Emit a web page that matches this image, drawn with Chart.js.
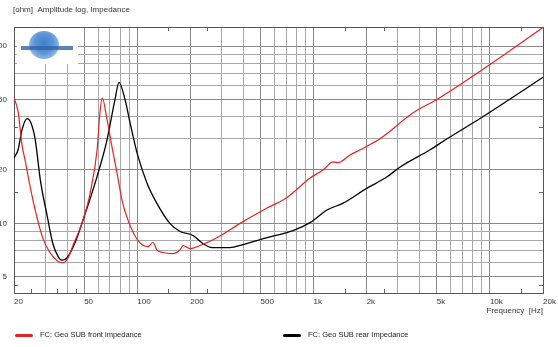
<!DOCTYPE html>
<html>
<head>
<meta charset="utf-8">
<script src="https://cdn.jsdelivr.net/npm/chart.js@4.4.1/dist/chart.umd.min.js"></script>
<style>
  html, body { margin: 0; padding: 0; background: #fff; }
  #wrap { position: relative; width: 558px; height: 347px; }
  #logo { position: absolute; left: 17px; top: 28px; width: 61px; height: 36px; background: #fff; }
  #logo .globe { position: absolute; left: 12px; top: 3px; width: 30px; height: 28px; border-radius: 50%;
    background: radial-gradient(ellipse at 50% 45%, #3f7fcc 0%, #5d95d6 45%, #a9c9ec 85%, #e4eef9 100%); }
  #logo .band { position: absolute; left: 4px; top: 18px; width: 52px; height: 4px; background: #2f63a8; opacity: .8; }
  .legend { position: absolute; top: 330px; font: 7.5px "Liberation Sans", Arial, sans-serif; color: #222; white-space: nowrap; }
  .legend i { display: inline-block; width: 18px; height: 3px; border-radius: 2px; vertical-align: middle; margin-right: 7px; }
</style>
</head>
<body>
<div id="wrap">
  <canvas id="impedance" width="558" height="347"></canvas>
  <div id="logo"><div class="globe"></div><div class="band"></div></div>
  <div class="legend" style="left:15px"><i style="background:#e02424"></i>FC: Geo SUB front impedance</div>
  <div class="legend" style="left:283px"><i style="background:#000"></i>FC: Geo SUB rear Impedance</div>
</div>
<script>
// front (red) impedance, Hz / ohm
const frontFreq = [20, 21.1, 22.2, 23.1, 24.6, 27, 29.2, 32, 35.6, 38, 40.5, 43.2, 49.2, 54.2, 59.2, 61.3, 63.3,
  67.4, 71.9, 76.8, 82, 88.7, 101, 115, 123, 129, 140, 159, 175, 182, 199, 227, 283, 383, 545, 707, 955,
  1131, 1290, 1377, 1610, 1835, 2380, 3670, 5016, 6180, 8790, 20000]
const frontOhm = [51, 42.7, 27.7, 22.8, 16.4, 10.8, 8.2, 6.84, 6.1, 6.0, 6.4, 7.5, 10.4, 15, 26, 41, 51,
  38.4, 27, 19.2, 13.5, 10.4, 8.0, 7.4, 7.8, 7.1, 6.85, 6.75, 7.1, 7.5, 7.2, 7.5, 8.3, 10, 12.2, 14, 18,
  20, 22.2, 22, 24.3, 26, 30, 42, 50, 57, 72, 127]

// rear (black) impedance
const rearFreq = [20, 21.1, 22.2, 23.7, 24.9, 26.4, 28.2, 30.8, 33.2, 35.6, 37.4, 40, 44.4, 49.2, 59.1, 67.4,
  74.8, 78.8, 85.2, 91, 99.7, 113.5, 129, 153, 175, 207, 236, 265, 336, 398, 545, 764, 955, 1192, 1470,
  2010, 2610, 3094, 4580, 5715, 8790, 15800, 20000]
const rearOhm = [23.4, 26, 33.7, 39, 37, 29.6, 17.6, 11.1, 7.7, 6.5, 6.2, 6.4, 7.8, 10.4, 18.3, 29.6,
  50, 62.4, 50, 37, 25, 16.9, 13, 10, 9.0, 8.55, 7.7, 7.3, 7.3, 7.6, 8.3, 9.1, 10.1, 11.9, 13,
  15.8, 18.3, 20.8, 26, 30, 39, 57, 66.7]

const xGrid = [20, 30, 40, 50, 60, 70, 80, 90, 100, 200, 300, 400, 500, 600, 700, 800, 900,
  1000, 2000, 3000, 4000, 5000, 6000, 7000, 8000, 9000, 10000, 20000]
const xTicks = [20, 50, 100, 200, 500, 1000, 2000, 5000, 10000, 20000]
const xTickLabels = ['20', '50', '100', '200', '500', '1k', '2k', '5k', '10k', '20k']
const xMinor = [25, 35, 45, 150, 250, 1500, 2500, 15000]

const yGrid = [5, 6, 7, 8, 9, 10, 20, 30, 40, 50, 60, 70, 80, 90, 100]
const yTicks = [5, 10, 20, 50, 100]
const yMinor = [4.5, 15, 35]

const font = { family: '"Liberation Sans", Arial, sans-serif', size: 8 }

function points(xs, ys) {
  return xs.map((x, i) => ({ x: x, y: ys[i] }))
}

const frame = {
  id: 'frame',
  beforeDatasetsDraw(chart) {
    const { ctx, chartArea: a, scales } = chart
    ctx.save()
    ctx.strokeStyle = '#666'
    ctx.lineWidth = 1
    ctx.beginPath()
    xMinor.forEach(v => {
      const px = Math.round(scales.x.getPixelForValue(v)) + 0.5
      ctx.moveTo(px, a.bottom); ctx.lineTo(px, a.bottom - 4)
      ctx.moveTo(px, a.top); ctx.lineTo(px, a.top + 4)
    })
    yMinor.forEach(v => {
      const py = Math.round(scales.y.getPixelForValue(v)) + 0.5
      ctx.moveTo(a.left, py); ctx.lineTo(a.left + 4, py)
      ctx.moveTo(a.right, py); ctx.lineTo(a.right - 4, py)
    })
    ctx.stroke()
    ctx.strokeStyle = '#555'
    ctx.strokeRect(Math.round(a.left) + 0.5, Math.round(a.top) + 0.5,
      Math.round(a.right - a.left), Math.round(a.bottom - a.top))
    ctx.restore()
  },
  afterDraw(chart) {
    const ctx = chart.ctx
    ctx.save()
    ctx.font = '8px "Liberation Sans", Arial, sans-serif'
    ctx.fillStyle = '#333'
    ctx.textBaseline = 'middle'
    ctx.fillText('[ohm]  Amplitude log, Impedance', chart.chartArea.left - 1, 10)
    ctx.restore()
  }
}

new Chart(document.getElementById('impedance'), {
  type: 'line',
  data: {
    datasets: [{
      label: 'FC: Geo SUB front impedance',
      data: points(frontFreq, frontOhm),
      borderColor: '#e02424',
      borderWidth: 1.2,
      pointRadius: 0,
      cubicInterpolationMode: 'monotone'
    }, {
      label: 'FC: Geo SUB rear Impedance',
      data: points(rearFreq, rearOhm),
      borderColor: '#000',
      borderWidth: 1.3,
      pointRadius: 0,
      cubicInterpolationMode: 'monotone'
    }]
  },
  options: {
    responsive: false,
    animation: false,
    events: [],
    layout: { padding: { top: 27, right: 15, bottom: 31, left: 0 } },
    plugins: {
      legend: { display: false },
      tooltip: { enabled: false }
    },
    scales: {
      x: {
        type: 'logarithmic',
        min: 20,
        max: 20000,
        afterBuildTicks: axis => { axis.ticks = xGrid.map(v => ({ value: v })) },
        afterFit: axis => { axis.height = 23; axis.paddingLeft = 0; axis.paddingRight = 0 },
        border: { display: false },
        grid: {
          drawTicks: false,
          color: c => (c.tick && xTicks.includes(c.tick.value)) ? '#888' : '#a8a8a8'
        },
        ticks: {
          autoSkip: false,
          maxRotation: 0,
          align: 'start',
          padding: 4,
          color: '#333',
          font: font,
          callback: v => {
            const i = xTicks.indexOf(v)
            return i < 0 ? '' : xTickLabels[i]
          }
        },
        title: {
          display: true,
          text: 'Frequency  [Hz]',
          align: 'end',
          color: '#333',
          font: font,
          padding: { top: 0, bottom: 0 }
        }
      },
      y: {
        type: 'logarithmic',
        min: 4.05,
        max: 128,
        afterBuildTicks: axis => { axis.ticks = yGrid.map(v => ({ value: v })) },
        afterFit: axis => { axis.width = 14; axis.paddingTop = 0; axis.paddingBottom = 0 },
        border: { display: false },
        grid: {
          drawTicks: false,
          color: c => (c.tick && yTicks.includes(c.tick.value)) ? '#888' : '#a8a8a8'
        },
        ticks: {
          autoSkip: false,
          padding: 7,
          color: '#333',
          font: font,
          callback: v => yTicks.includes(v) ? String(v) : ''
        }
      }
    }
  },
  plugins: [frame]
})
</script>
</body>
</html>
